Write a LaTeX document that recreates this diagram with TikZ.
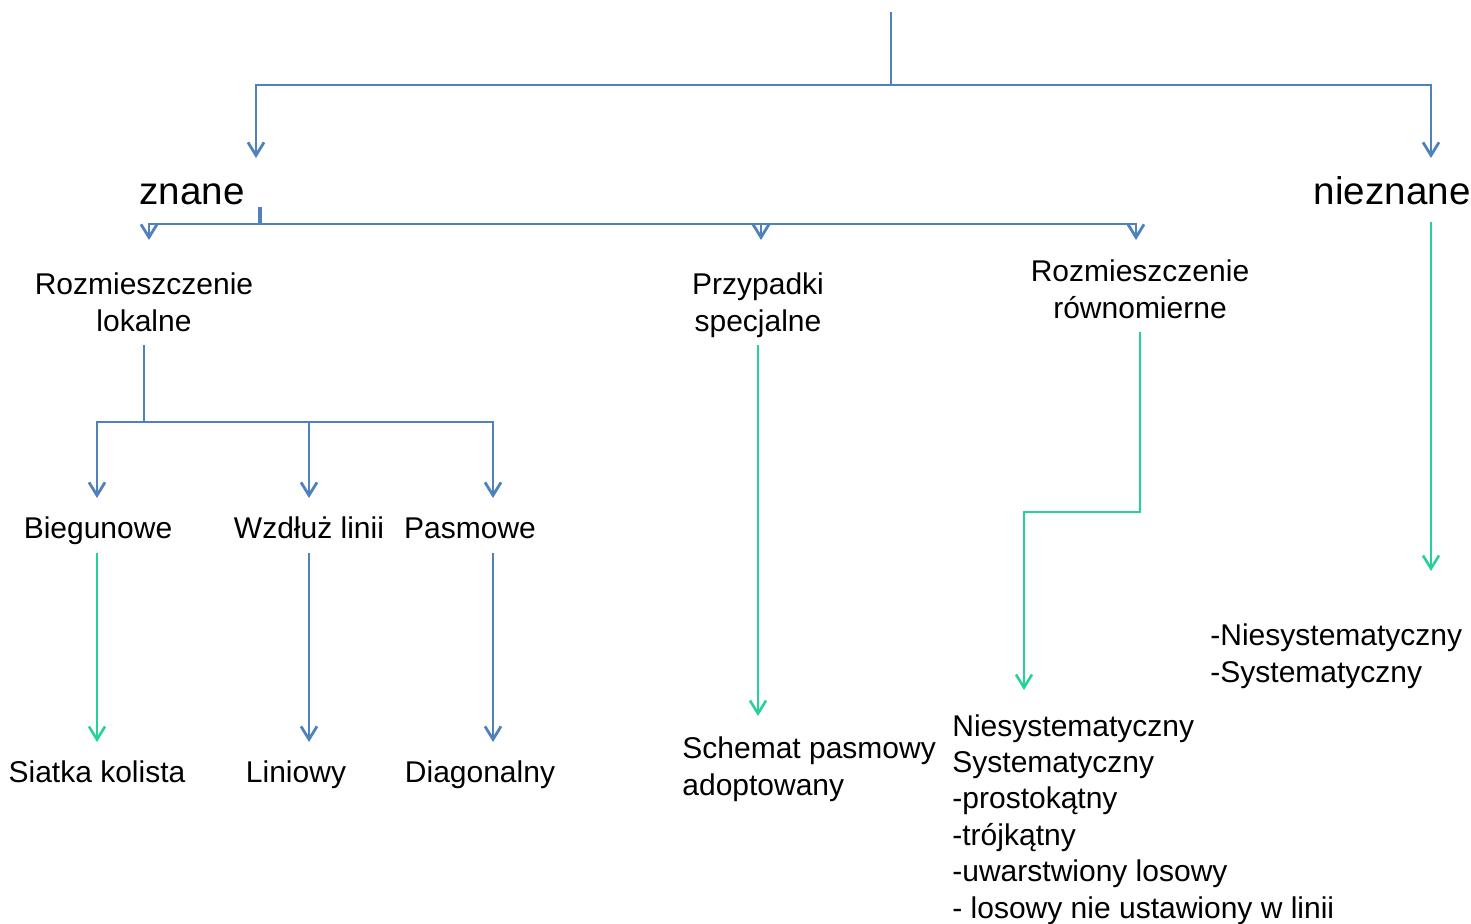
\documentclass[tikz,border=0pt]{standalone}
\usepackage{fontspec}
\setmainfont{Liberation Sans}
\usetikzlibrary{arrows.meta}
\definecolor{lineblue}{RGB}{79,129,189}
\definecolor{linegreen}{RGB}{38,210,150}
\tikzset{
    lbl/.style={font=\fontsize{15}{18.5}\selectfont, inner sep=0pt, anchor=base},
    biglbl/.style={font=\fontsize{19.3}{23}\selectfont, inner sep=0pt, anchor=base},
    blueline/.style={draw=lineblue, line width=1.4pt},
    greenline/.style={draw=linegreen, line width=1.3pt},
    tip/.style={-{Straight Barb[length=6.5pt, width=8pt]}},
}
\begin{document}
\begin{tikzpicture}[x=0.5pt, y=-0.5pt]
    \useasboundingbox (0,0) rectangle (1471,923);

    % Etykiety
    \node[biglbl] (znane) at (192,204) {znane};
    \node[biglbl, anchor=base east] (nieznane) at (1471,204) {nieznane};
    \node[lbl, anchor=north, align=center] (lokalne) at (144,272) {Rozmieszczenie\\lokalne};
    \node[lbl, anchor=north, align=center] (specjalne) at (758,272) {Przypadki\\specjalne};
    \node[lbl, anchor=north, align=center] (rown) at (1140,259) {Rozmieszczenie\\równomierne};
    \node[lbl] (bieg) at (98,538) {Biegunowe};
    \node[lbl] (wzdluz) at (309,538) {Wzdłuż linii};
    \node[lbl] (pasmowe) at (470,538) {Pasmowe};
    \node[lbl] (siatka) at (97,782) {Siatka kolista};
    \node[lbl] (liniowy) at (296,782) {Liniowy};
    \node[lbl] (diag) at (480,782) {Diagonalny};
    \node[lbl, anchor=north west, align=left] (schemat) at (682,736) {Schemat pasmowy\\adoptowany};
    \node[lbl, anchor=north west, align=left, font=\fontsize{15}{18.2}\selectfont] (uklad) at (952,714)
        {Niesystematyczny\\Systematyczny\\-prostokątny\\-trójkątny\\-uwarstwiony losowy\\- losowy nie ustawiony w linii};
    \node[lbl, anchor=north west, align=left] (lista) at (1210,623) {-Niesystematyczny\\-Systematyczny};

    % Punkty połączeń
    \coordinate (title) at (891,12);
    \coordinate (root) at (891,85);
    \coordinate (znane-in) at (256,158);
    \coordinate (nieznane-in) at (1431,158);
    \coordinate (znane-out) at (260,207);
    \coordinate (znane-split) at (260,224);
    \coordinate (lokalne-in) at (149,240);
    \coordinate (specjalne-in) at (761,240);
    \coordinate (rown-in) at (1136,240);
    \coordinate (lokalne-out) at (144,345);
    \coordinate (lokalne-split) at (144,422);
    \coordinate (bieg-in) at (97,498);
    \coordinate (wzdluz-in) at (309,498);
    \coordinate (pasmowe-in) at (493,498);
    \coordinate (bieg-out) at (97,553);
    \coordinate (siatka-in) at (97,742);
    \coordinate (wzdluz-out) at (309,553);
    \coordinate (liniowy-in) at (309,742);
    \coordinate (pasmowe-out) at (493,553);
    \coordinate (diag-in) at (493,742);
    \coordinate (specjalne-out) at (758,345);
    \coordinate (schemat-in) at (758,716);
    \coordinate (rown-out) at (1140,332);
    \coordinate (rown-step) at (1024,512);
    \coordinate (uklad-in) at (1024,690);
    \coordinate (nieznane-out) at (1431,222);
    \coordinate (lista-in) at (1431,571);

    % Pierwszy podział
    \draw[blueline] (title) -- (root);
    \draw[blueline, tip] (root) -| (znane-in);
    \draw[blueline, tip] (root) -| (nieznane-in);

    % Podział znanych
    \draw[blueline, line width=2pt] (znane-out) -- (znane-split);
    \draw[blueline, tip] (znane-split) -| (lokalne-in);
    \draw[blueline, tip] (znane-split) -| (specjalne-in);
    \draw[blueline, tip] (znane-split) -| (rown-in);

    % Rozmieszczenie lokalne
    \draw[blueline] (lokalne-out) -- (lokalne-split);
    \draw[blueline, tip] (lokalne-split) -| (bieg-in);
    \draw[blueline, tip] (lokalne-split) -| (wzdluz-in);
    \draw[blueline, tip] (lokalne-split) -| (pasmowe-in);

    % Schematy
    \draw[greenline, tip] (bieg-out) -- (siatka-in);
    \draw[blueline, tip] (wzdluz-out) -- (liniowy-in);
    \draw[blueline, tip] (pasmowe-out) -- (diag-in);
    \draw[greenline, tip] (specjalne-out) -- (schemat-in);
    \draw[greenline, tip] (rown-out) |- (rown-step) -- (uklad-in);
    \draw[greenline, tip] (nieznane-out) -- (lista-in);
\end{tikzpicture}
\end{document}
